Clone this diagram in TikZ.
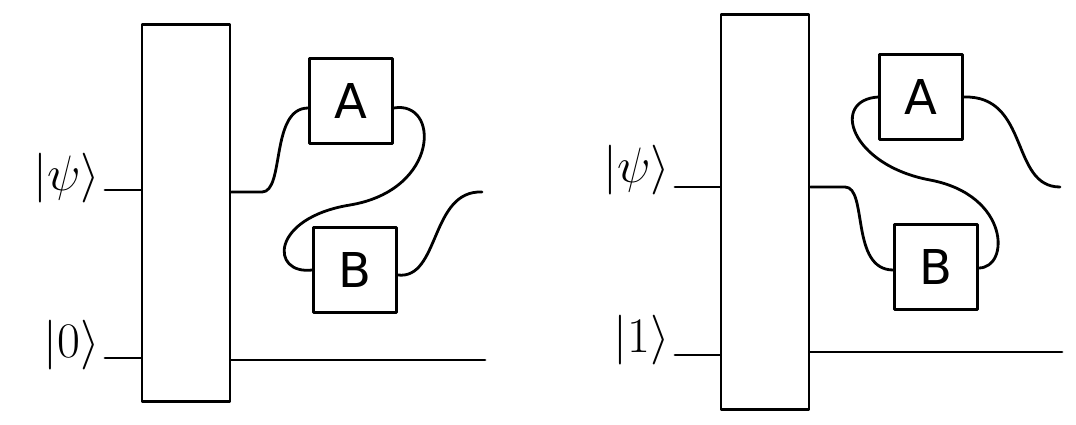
\documentclass[tikz,border=0pt]{standalone}
\usepackage{fontspec}
\setmainfont{DejaVu Sans}
\begin{document}
\begin{tikzpicture}[x=0.75pt,y=-0.75pt,line width=2.1pt,line cap=round,line join=round,
  gate/.style={draw,minimum width=62pt,minimum height=64pt,inner sep=0pt,font=\fontsize{36}{38}\selectfont},
  big/.style={draw,minimum width=66pt,inner sep=0pt},
  ket/.style={font=\Huge,scale=1.5,inner sep=0pt,anchor=east}]
\useasboundingbox (0,0) rectangle (1076,425);
% left
\node[big,minimum height=283pt] (U1) at (186,213) {};
\node[ket] (p1) at (102,178) {$|\psi\rangle$};
\node[ket] (z1) at (102,345) {$|0\rangle$};
\node[gate] (A1) at (351,101) {A};
\node[gate] (B1) at (355,270) {B};
\coordinate (o1) at (482,192);
\coordinate (q1) at (485,360);
\draw (105,190) -- (U1.west|-0,190);
\draw (105,358) -- (U1.west|-0,358);
\draw (U1.east|-0,192) -- (262,192) .. controls (285,192) and (270,108) .. (A1.west|-0,108) ;
\draw (A1.east|-0,108) .. controls (440,100) and (440,190) .. (350,205) .. controls (270,218) and (270,275) .. (B1.west|-0,270);
\draw (B1.east|-0,275) .. controls (440,280) and (430,190) .. (o1);
\draw (U1.east|-0,360) -- (q1);
% right
\node[big,minimum height=296pt] (U2) at (765,212) {};
\node[ket] (p2) at (672,170) {$|\psi\rangle$};
\node[ket] (z2) at (672,340) {$|1\rangle$};
\node[gate] (A2) at (921,97) {A};
\node[gate] (B2) at (936,267) {B};
\coordinate (o2) at (1060,187);
\coordinate (q2) at (1062,352);
\draw (675,187) -- (U2.west|-0,187);
\draw (675,355) -- (U2.west|-0,355);
\draw (U2.east|-0,187) -- (845,187) .. controls (868,187) and (850,270) .. (B2.west|-0,270);
\draw (B2.east|-0,268) .. controls (1010,268) and (1010,195) .. (930,180) .. controls (850,165) and (830,100) .. (A2.west|-0,97);
\draw (A2.east|-0,97) .. controls (1030,95) and (1010,187) .. (o2);
\draw (U2.east|-0,352) -- (q2);
\end{tikzpicture}
\end{document}
